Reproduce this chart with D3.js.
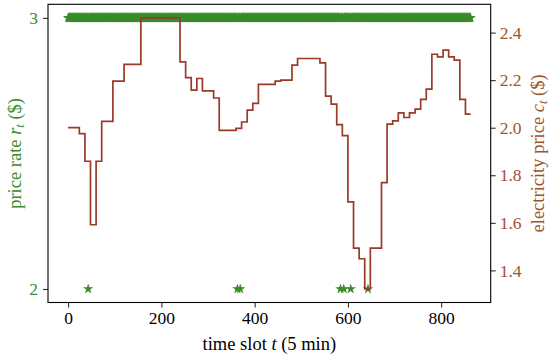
<!DOCTYPE html>
<html>
<head>
<meta charset="utf-8">
<script src="https://cdn.jsdelivr.net/npm/d3@7"></script>
<style>
	body { margin: 0; background: #fff; }
	svg { display: block; }
	svg text { font-family: 'Liberation Serif', 'DejaVu Serif', serif; }
</style>
</head>
<body>
<div id="chart"></div>
<script>
// hourly electricity price c_t ($), one value per 12 slots of 5 min
var hourlyPrice = [
	2.000, 2.000, 1.975, 1.859, 1.592, 1.859, 2.027, 2.027, 2.196, 2.196,
	2.266, 2.266, 2.266, 2.462, 2.462, 2.462, 2.462, 2.462, 2.462, 2.462,
	2.277, 2.211, 2.158, 2.207, 2.155, 2.155, 2.125, 1.989, 1.989, 1.989,
	1.997, 2.024, 2.074, 2.102, 2.182, 2.182, 2.182, 2.196, 2.200, 2.200,
	2.263, 2.291, 2.291, 2.291, 2.291, 2.273, 2.133, 2.099, 2.013, 1.967,
	1.688, 1.494, 1.449, 1.322, 1.494, 1.494, 1.769, 2.015, 2.029, 2.062,
	2.043, 2.062, 2.078, 2.119, 2.162, 2.309, 2.298, 2.326, 2.298, 2.284,
	2.119, 2.057
];
// price rate r_t: 3 everywhere except these slots, where it is 2
var lowRateSlots = [43, 363, 369, 584, 591, 606, 643];
var rateLevels = [2, 3];
var slotCount = 864;
var xTicks = [0, 200, 400, 600, 800];
var leftTicks = [2, 3];
var rightTicks = [1.4, 1.6, 1.8, 2.0, 2.2, 2.4];

(function() {
	var width = 550, height = 357;
	var left = 48, right = 490.7, top = 4.3, bottom = 302.5;
	var green = '#3a8c2a', brown = '#a0522d', lineColor = '#9a3a2a';

	var svg = d3.select('#chart').append('svg')
		.attr('width', width)
		.attr('height', height);

	// matplotlib style 5% margins
	function pad(lo, hi) { var m = (hi - lo) * 0.05; return [lo - m, hi + m]; }

	var x = d3.scaleLinear().domain(pad(0, slotCount - 1)).range([left, right]);
	var yL = d3.scaleLinear().domain(pad(d3.min(rateLevels), d3.max(rateLevels))).range([bottom, top]);
	var yR = d3.scaleLinear().domain(pad(d3.min(hourlyPrice), d3.max(hourlyPrice))).range([bottom, top]);

	// price rate stars
	var rates = d3.range(slotCount).map(function(t) {
		return { t: t, r: lowRateSlots.indexOf(t) > -1 ? rateLevels[0] : rateLevels[1] };
	});
	var star = d3.symbol().type(d3.symbolStar).size(34);
	svg.append('g').selectAll('path')
		.data(rates)
		.enter().append('path')
		.attr('d', star)
		.attr('transform', function(d) { return 'translate(' + x(d.t) + ',' + yL(d.r) + ')'; })
		.attr('fill', green);

	// electricity price step line
	var pts = hourlyPrice.map(function(p, h) { return [h * 12, p]; });
	pts.push([slotCount - 1, hourlyPrice[hourlyPrice.length - 1]]);
	var line = d3.line()
		.x(function(d) { return x(d[0]); })
		.y(function(d) { return yR(d[1]); })
		.curve(d3.curveStepAfter);
	svg.append('path')
		.datum(pts)
		.attr('d', line)
		.attr('fill', 'none')
		.attr('stroke', lineColor)
		.attr('stroke-width', 1.7);

	// axes
	var gx = svg.append('g').attr('transform', 'translate(0,' + bottom + ')')
		.call(d3.axisBottom(x).tickValues(xTicks).tickSize(5).tickPadding(4).tickSizeOuter(0));
	gx.selectAll('text').attr('fill', '#000');

	var gl = svg.append('g').attr('transform', 'translate(' + left + ',0)')
		.call(d3.axisLeft(yL).tickValues(leftTicks).tickFormat(d3.format('d')).tickSize(5).tickPadding(5).tickSizeOuter(0));
	gl.selectAll('text').attr('fill', green);

	var gr = svg.append('g').attr('transform', 'translate(' + right + ',0)')
		.call(d3.axisRight(yR).tickValues(rightTicks).tickFormat(d3.format('.1f')).tickSize(5).tickPadding(4).tickSizeOuter(0));
	gr.selectAll('text').attr('fill', brown);

	[gx, gl, gr].forEach(function(g) {
		g.attr('font-family', null).attr('font-size', 17.5);
	});
	svg.selectAll('.domain').remove();
	svg.selectAll('.tick line').attr('stroke', '#000').attr('stroke-width', 0.9);

	// frame
	svg.append('rect')
		.attr('x', left).attr('y', top)
		.attr('width', right - left).attr('height', bottom - top)
		.attr('fill', 'none').attr('stroke', '#000').attr('stroke-width', 1.1);

	// labels
	var xl = svg.append('text')
		.attr('x', (left + right) / 2).attr('y', 350)
		.attr('text-anchor', 'middle').attr('font-size', 18.5).attr('fill', '#000');
	xl.append('tspan').text('time slot ');
	xl.append('tspan').attr('font-style', 'italic').text('t');
	xl.append('tspan').text(' (5 min)');

	var ll = svg.append('text')
		.attr('transform', 'translate(21,' + (top + bottom) / 2 + ') rotate(-90)')
		.attr('text-anchor', 'middle').attr('font-size', 18.5).attr('fill', green);
	ll.append('tspan').text('price rate ');
	ll.append('tspan').attr('font-style', 'italic').text('r');
	ll.append('tspan').attr('font-style', 'italic').attr('font-size', 12.5).attr('dy', 3).text('t');
	ll.append('tspan').attr('dy', -3).text(' ($)');

	var rl = svg.append('text')
		.attr('transform', 'translate(543.5,' + (top + bottom) / 2 + ') rotate(-90)')
		.attr('text-anchor', 'middle').attr('font-size', 18.5).attr('fill', brown);
	rl.append('tspan').text('electricity price ');
	rl.append('tspan').attr('font-style', 'italic').text('c');
	rl.append('tspan').attr('font-style', 'italic').attr('font-size', 12.5).attr('dy', 3).text('t');
	rl.append('tspan').attr('dy', -3).text(' ($)');
})();
</script>
</body>
</html>
